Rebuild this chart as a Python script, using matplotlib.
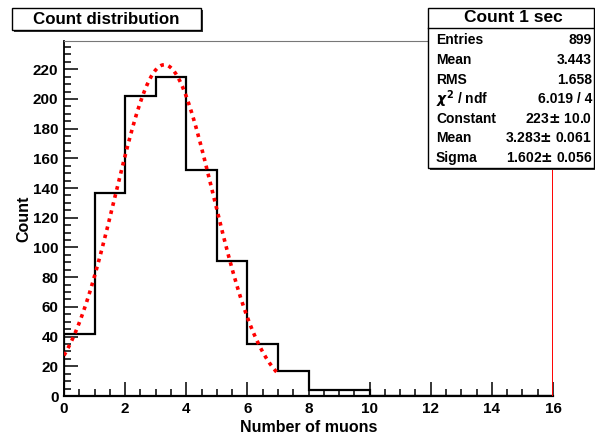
import numpy as np
import matplotlib.pyplot as plt
from matplotlib.patches import Rectangle
from matplotlib.ticker import MultipleLocator

plt.rcParams['font.family'] = ['Liberation Sans', 'DejaVu Sans']
plt.rcParams['font.weight'] = 'bold'

# histogram: unit-width bins from 0 to 16
edges = np.arange(0, 17, 1)
counts = [42, 137, 202, 215, 152, 91, 35, 17, 4, 4, 0, 0, 0, 0, 0, 0]

# gaussian fit parameters (from the stats box)
fit_const = 223
fit_mean = 3.283
fit_sigma = 1.602
fit_range = (0, 7)

stat_names = ["Entries", "Mean", "RMS", r"$\chi^2$ / ndf", "Constant", "Mean", "Sigma"]
stat_vals = ["899", "3.443", "1.658", "6.019 / 4",
             "223$\\pm$ 10.0", "3.283$\\pm$ 0.061", "1.602$\\pm$ 0.056"]

W, H = 595, 434
fig = plt.figure(figsize=(W / 100, H / 100), dpi=100)
ax = fig.add_axes([64 / W, 1 - 396 / H, 489 / W, 355 / H])

ax.stairs(counts, edges, color='black', lw=1.6, baseline=0, zorder=3)

xf = np.linspace(fit_range[0], fit_range[1], 200)
yf = fit_const * np.exp(-0.5 * ((xf - fit_mean) / fit_sigma) ** 2)
ax.plot(xf, yf, color='red', lw=2.6, ls=(0, (1, 1.3)), zorder=4)

ax.axvline(16, color='red', lw=1.4, zorder=5)

ax.set_xlim(0, 16)
ax.set_ylim(0, 239)
ax.xaxis.set_major_locator(MultipleLocator(2))
ax.xaxis.set_minor_locator(MultipleLocator(0.5))
ax.yaxis.set_major_locator(MultipleLocator(20))
ax.yaxis.set_minor_locator(MultipleLocator(5))
ax.tick_params(which='both', direction='in', top=False, right=False,
               labelsize=11, width=1.1)
ax.tick_params(which='major', length=10, pad=4)
ax.tick_params(which='minor', length=5)
for lab in ax.get_xticklabels() + ax.get_yticklabels():
    lab.set_fontweight('bold')

ax.spines['left'].set_linewidth(1.3)
ax.spines['bottom'].set_linewidth(1.6)
ax.spines['top'].set_color('#777777')
ax.spines['right'].set_visible(False)

ax.set_xlabel("Number of muons", fontsize=11.5, fontweight='bold', labelpad=3)
ax.set_ylabel("Count", fontsize=11.5, fontweight='bold', labelpad=1)


def fig_box(x0, y0, x1, y1):
    # ROOT-like pave with drop shadow, coordinates in pixels from top-left
    fig.patches.append(Rectangle((x0 / W + 2 / W, 1 - y1 / H - 2 / H), (x1 - x0) / W, (y1 - y0) / H,
                                 transform=fig.transFigure, facecolor='#333333',
                                 edgecolor='none', zorder=8))
    fig.patches.append(Rectangle((x0 / W, 1 - y1 / H), (x1 - x0) / W, (y1 - y0) / H,
                                 transform=fig.transFigure, facecolor='white',
                                 edgecolor='black', lw=1, zorder=9))


# title pave
fig_box(12, 8, 201, 30)
fig.text(106 / W, 1 - 19.5 / H, "Count distribution", ha='center', va='center',
         fontsize=12.2, fontweight='bold', zorder=10)

# stats pave
fig_box(428, 8, 594, 168)
fig.add_artist(plt.Line2D([428 / W, 594 / W], [1 - 28 / H, 1 - 28 / H],
                          transform=fig.transFigure, color='black', lw=1, zorder=10))
fig.text(513 / W, 1 - 18 / H, "Count 1 sec", ha='center', va='center',
         fontsize=12.5, fontweight='bold', zorder=10)
for i, (n, v) in enumerate(zip(stat_names, stat_vals)):
    yy = 1 - (40.5 + i * 19.6) / H
    fig.text(436 / W, yy, n, ha='left', va='center', fontsize=10,
             fontweight='bold', zorder=10)
    fig.text(592 / W, yy, v, ha='right', va='center', fontsize=10,
             fontweight='bold', zorder=10)

fig.savefig("out.png", dpi=100)
